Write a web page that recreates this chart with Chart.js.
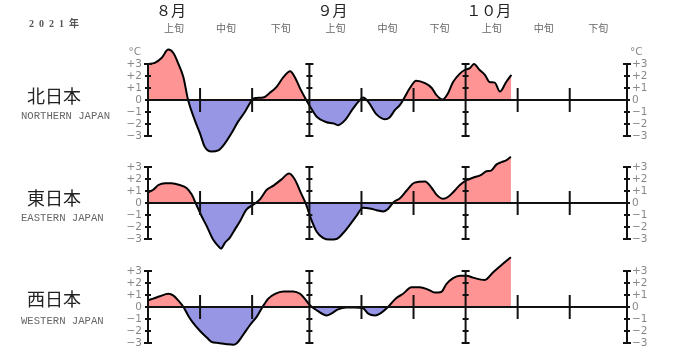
<!DOCTYPE html>
<html>
<head>
<meta charset="utf-8">
<script src="https://cdn.jsdelivr.net/npm/chart.js@4.4.0/dist/chart.umd.min.js"></script>
<style>
  html, body { margin: 0; padding: 0; background: #fff; overflow: hidden; }
  #wrap { position: relative; width: 680px; height: 354px; }
  #chart { position: absolute; left: 0; top: 0; }
  .ja { position: absolute; left: 27px; font-family: "Noto Sans CJK JP"; font-size: 18px; line-height: 18px; color: #222; }
  .en { position: absolute; left: 21px; font-family: "Liberation Mono"; font-size: 10.6px; line-height: 10px; color: #666; }
  #year { position: absolute; left: 29px; top: 18px; font-family: "Liberation Serif", "Noto Sans CJK JP"; font-weight: bold;
          font-size: 10px; line-height: 12px; letter-spacing: 5px; color: #555; }
</style>
</head>
<body>
<div id="wrap">
  <canvas id="chart" width="680" height="354"></canvas>
  <div id="year">2021年</div>
  <div class="ja" style="top:86px">北日本</div>
  <div class="en" style="top:111px">NORTHERN JAPAN</div>
  <div class="ja" style="top:188px">東日本</div>
  <div class="en" style="top:213px">EASTERN JAPAN</div>
  <div class="ja" style="top:289px">西日本</div>
  <div class="en" style="top:316px">WESTERN JAPAN</div>
</div>
<script>
// days counted from Aug 1 (0) to Nov 1 (92)
const monthStarts = [0, 31, 61, 92];
const monthLabels = ["８月", "９月", "１０月"];
const dekadBounds = [0, 10, 20, 31, 41, 51, 61, 71, 81, 92];
const dekadLabels = ["上旬", "中旬", "下旬", "上旬", "中旬", "下旬", "上旬", "中旬", "下旬"];
const yTicks = [3, 2, 1, 0, -1, -2, -3];
const yTickLabels = ["+3", "+2", "+1", "0", "\u22121", "\u22122", "\u22123"];

// temperature anomaly (°C), 5-day running mean
const northDays = [0, 1.3, 2.6, 3.9, 4.9, 5.8, 6.8, 7.7, 9, 10, 10.9, 12.2, 13.5, 14.8, 16, 17.3, 18.6, 19.9, 20.4, 22.1,
  23.4, 24.7, 26, 27.3, 28.2, 29.4, 30.4, 31.2, 32.4, 34.3, 35.6, 36.5, 37.8, 39.4, 40.7, 41.3, 42.3, 43.9, 45.5, 46.4,
  47.4, 48.4, 49, 50.3, 51.5, 53.2, 54.5, 55.4, 56.6, 57.6, 58.6, 59.9, 60.8, 61.8, 62.6, 63.7, 64.7, 65.6, 66.6, 67.6,
  68.8, 69.8];
const northValues = [3.0, 3.1, 3.5, 4.2, 3.9, 3.05, 1.9, 0, -1.7, -2.8, -3.9, -4.3, -4.2, -3.6, -2.8, -1.8, -1.0, -0.05, 0.15, 0.2,
  0.6, 1.1, 1.9, 2.4, 1.9, 0.8, 0, -0.6, -1.4, -1.85, -1.95, -2.1, -1.7, -0.7, 0, 0.2, -0.15, -1.2, -1.6, -1.45,
  -0.85, -0.4, 0, 1.0, 1.6, 1.4, 1.0, 0.4, 0.05, 0.55, 1.5, 2.2, 2.5, 2.65, 3.0, 2.5, 2.1, 1.5, 1.45, 0.7,
  1.5, 2.1];

const eastDays = [0, 1, 2, 3.3, 4.5, 6.1, 7.4, 8.4, 9.3, 10.3, 11.3, 12.5, 13.5, 14, 14.8, 15.7, 16.7, 17.7, 18.9, 20.2,
  21.5, 22.8, 24.1, 25.6, 27.1, 28.2, 29.4, 30.4, 31.2, 32.4, 33.6, 34.9, 36.2, 37.5, 38.8, 40, 41.3, 42.6, 43.9, 45.2,
  46.1, 47.1, 48.4, 49.6, 51.2, 53.2, 54.5, 55.4, 56.7, 57.6, 58.6, 59.9, 61.2, 62.4, 64, 65, 65.9, 66.9, 67.9, 68.8,
  69.7];
const eastValues = [0.9, 1.1, 1.5, 1.65, 1.65, 1.5, 1.25, 0.7, -0.15, -1.1, -1.95, -3.05, -3.6, -3.8, -3.3, -2.9, -2.2, -1.5, -0.55, -0.15,
  0.3, 1.1, 1.45, 1.95, 2.45, 1.95, 0.8, -0.15, -1.2, -2.4, -2.9, -3.05, -3.0, -2.5, -1.8, -1.1, -0.4, -0.45, -0.6, -0.7,
  -0.5, 0.05, 0.4, 1.0, 1.7, 1.8, 1.25, 0.7, 0.35, 0.5, 0.9, 1.5, 1.9, 2.1, 2.35, 2.65, 2.7, 3.2, 3.4, 3.55,
  3.85];

const westDays = [0, 1, 2.3, 3.9, 4.9, 5.8, 6.8, 7.7, 8.7, 10, 11.3, 12.2, 13.5, 15.1, 16.4, 17.1, 18.3, 19.6, 20.9, 22,
  23.1, 24.4, 26, 27.9, 29.2, 30.1, 31.1, 32.5, 34.3, 35.2, 36.5, 38.1, 39.7, 41.3, 42.3, 43.6, 44.9, 46.1, 47.7, 49,
  50.6, 52.2, 53.8, 55.1, 56.3, 57.3, 58.6, 59.9, 61.2, 62.4, 64.7, 66.3, 67.9, 69.7];
const westValues = [0.55, 0.7, 0.9, 1.1, 0.95, 0.55, 0, -0.7, -1.35, -2.0, -2.55, -2.9, -3.0, -3.1, -3.15, -3.0, -2.3, -1.5, -0.8, 0,
  0.7, 1.1, 1.3, 1.3, 1.1, 0.7, 0.15, -0.3, -0.7, -0.55, -0.2, -0.05, -0.05, -0.1, -0.55, -0.7, -0.45, 0, 0.75, 1.1,
  1.65, 1.65, 1.45, 1.2, 1.25, 1.9, 2.4, 2.6, 2.6, 2.45, 2.25, 2.9, 3.5, 4.15];

// layout: pixel row of each panel's zero line, pixels per degree
const H = 354;
const panelZero = [100, 203, 307];
const pxPerDeg = 12;
const panelAxes = ["y1", "y2", "y3"];

const RED = "rgb(255,148,148)";
const BLUE = "rgb(150,150,228)";

const makeSet = (days, values, axis) => ({
  data: days.map((d, i) => ({ x: d, y: values[i] })),
  yAxisID: axis,
  borderColor: "#000",
  borderWidth: 2,
  pointRadius: 0,
  cubicInterpolationMode: "monotone",
  fill: { target: "origin", above: RED, below: BLUE },
});

const yScale = (zero) => ({
  display: false,
  min: -(H - zero) / pxPerDeg,
  max: zero / pxPerDeg,
});

// axes, ticks and labels drawn from the chart's own scales
const decor = {
  id: "decor",
  afterDatasetsDraw(chart) {
    const ctx = chart.ctx;
    const x = chart.scales.x;
    const xl = x.getPixelForValue(monthStarts[0]);
    const xr = x.getPixelForValue(monthStarts[monthStarts.length - 1]);
    ctx.save();
    ctx.strokeStyle = "#111";
    ctx.lineWidth = 2;
    panelAxes.forEach((id, i) => {
      const y = chart.scales[id];
      const y0 = y.getPixelForValue(0);
      ctx.beginPath();
      ctx.moveTo(xl, y0);
      ctx.lineTo(xr, y0);
      ctx.stroke();
      monthStarts.forEach((d) => {
        const px = x.getPixelForValue(d);
        ctx.beginPath();
        ctx.moveTo(px, y.getPixelForValue(3));
        ctx.lineTo(px, y.getPixelForValue(-3));
        ctx.stroke();
        yTicks.forEach((v) => {
          const py = y.getPixelForValue(v);
          const w = Math.abs(v) === 3 ? 4 : 3;
          ctx.beginPath();
          ctx.moveTo(px - w, py);
          ctx.lineTo(px + w, py);
          ctx.stroke();
        });
      });
      dekadBounds.forEach((d) => {
        if (monthStarts.includes(d)) return;
        const px = x.getPixelForValue(d);
        ctx.beginPath();
        ctx.moveTo(px, y.getPixelForValue(1));
        ctx.lineTo(px, y.getPixelForValue(-1));
        ctx.stroke();
      });
      ctx.fillStyle = "#888";
      ctx.font = '10.5px "DejaVu Sans"';
      ctx.textBaseline = "middle";
      yTicks.forEach((v, k) => {
        const py = y.getPixelForValue(v);
        ctx.textAlign = "right";
        ctx.fillText(yTickLabels[k], xl - 6, py);
        ctx.textAlign = "left";
        ctx.fillText(yTickLabels[k], xr + 5, py);
      });
      if (i === 0) {
        const py = y.getPixelForValue(4);
        ctx.textAlign = "right";
        ctx.fillText("°C", xl - 7, py);
        ctx.textAlign = "left";
        ctx.fillText("°C", xr + 3, py);
      }
    });
    // header: months and dekads
    ctx.textAlign = "center";
    ctx.textBaseline = "middle";
    ctx.fillStyle = "#666";
    ctx.font = '10px "Noto Sans CJK JP"';
    dekadLabels.forEach((t, k) => {
      const mid = (dekadBounds[k] + dekadBounds[k + 1]) / 2;
      ctx.fillText(t, x.getPixelForValue(mid), 28);
    });
    ctx.fillStyle = "#222";
    ctx.font = '15px "Noto Sans CJK JP"';
    monthLabels.forEach((t, k) => {
      const mid = (dekadBounds[k * 3] + dekadBounds[k * 3 + 1]) / 2;
      ctx.fillText(t, x.getPixelForValue(mid) - 3, 10);
    });
    ctx.restore();
  },
};

new Chart(document.getElementById("chart"), {
  type: "line",
  data: {
    datasets: [
      makeSet(northDays, northValues, "y1"),
      makeSet(eastDays, eastValues, "y2"),
      makeSet(westDays, westValues, "y3"),
    ],
  },
  options: {
    responsive: false,
    animation: false,
    events: [],
    layout: { padding: { left: 148, right: 53, top: 0, bottom: 0 }, autoPadding: false },
    plugins: { legend: { display: false }, tooltip: { enabled: false } },
    scales: {
      x: { type: "linear", display: false, min: monthStarts[0], max: monthStarts[monthStarts.length - 1] },
      y1: yScale(panelZero[0]),
      y2: yScale(panelZero[1]),
      y3: yScale(panelZero[2]),
    },
  },
  plugins: [decor],
});
</script>
</body>
</html>
